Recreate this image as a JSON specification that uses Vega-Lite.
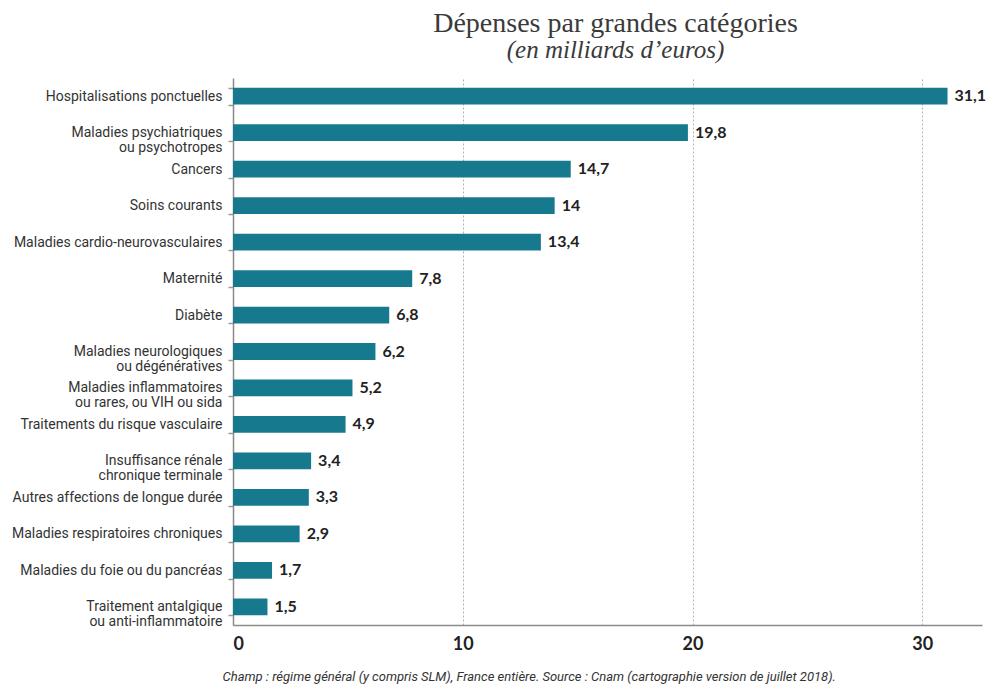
{
  "$schema": "https://vega.github.io/schema/vega-lite/v6.json",
  "width": 749,
  "height": 547,
  "autosize": {"type": "none"},
  "padding": {"left": 233, "top": 78, "right": 5, "bottom": 61},
  "background": "white",
  "config": {
    "view": {"stroke": null},
    "locale": {"number": {"decimal": ",", "thousands": " ", "grouping": [3], "currency": ["", " €"]}}
  },
  "title": {
    "text": "Dépenses par grandes catégories",
    "subtitle": "(en milliards d’euros)",
    "font": "Liberation Serif",
    "fontSize": 28,
    "fontWeight": "normal",
    "color": "#3a3a3a",
    "subtitleFont": "Liberation Serif",
    "subtitleFontSize": 25,
    "subtitleFontStyle": "italic",
    "subtitleColor": "#3a3a3a",
    "subtitlePadding": 0,
    "anchor": "middle",
    "dx": 8,
    "offset": 8
  },
  "data": {
    "values": [
      {"categorie": "Hospitalisations ponctuelles", "depense": 31.1},
      {"categorie": "Maladies psychiatriques|ou psychotropes", "depense": 19.8},
      {"categorie": "Cancers", "depense": 14.7},
      {"categorie": "Soins courants", "depense": 14},
      {"categorie": "Maladies cardio-neurovasculaires", "depense": 13.4},
      {"categorie": "Maternité", "depense": 7.8},
      {"categorie": "Diabète", "depense": 6.8},
      {"categorie": "Maladies neurologiques|ou dégénératives", "depense": 6.2},
      {"categorie": "Maladies inflammatoires|ou rares, ou VIH ou sida", "depense": 5.2},
      {"categorie": "Traitements du risque vasculaire", "depense": 4.9},
      {"categorie": "Insuffisance rénale|chronique terminale", "depense": 3.4},
      {"categorie": "Autres affections de longue durée", "depense": 3.3},
      {"categorie": "Maladies respiratoires chroniques", "depense": 2.9},
      {"categorie": "Maladies du foie ou du pancréas", "depense": 1.7},
      {"categorie": "Traitement antalgique|ou anti-inflammatoire", "depense": 1.5}
    ]
  },
  "encoding": {
    "y": {
      "field": "categorie",
      "type": "nominal",
      "sort": null,
      "scale": {"paddingInner": 0.54, "paddingOuter": 0.27},
      "axis": {
        "title": null,
        "labelExpr": "datum.value ? split(datum.value, '|') : ''",
        "labelFont": "Roboto",
        "labelFontSize": 14,
        "labelColor": "#333333",
        "labelLineHeight": 15,
        "labelPadding": 6,
        "labelLimit": 0,
        "tickBand": "extent",
        "tickSize": 5,
        "tickColor": "#999999",
        "tickWidth": 1.5,
        "domainColor": "#8a8a8a",
        "domainWidth": 1.5
      }
    },
    "x": {
      "field": "depense",
      "type": "quantitative",
      "scale": {"domain": [0, 32.6], "nice": false},
      "axis": {
        "values": [0, 10, 20, 30],
        "title": "Champ : régime général (y compris SLM), France entière. Source : Cnam (cartographie version de juillet 2018).",
        "titleFont": "Roboto",
        "titleFontStyle": "italic",
        "titleFontWeight": "normal",
        "titleFontSize": 13,
        "titleColor": "#333333",
        "titleAnchor": "start",
        "titleBaseline": "middle",
        "titleX": -11,
        "titleY": 51,
        "labelFont": "Lato",
        "labelFontWeight": "bold",
        "labelFontSize": 18,
        "labelColor": "#222222",
        "labelPadding": 10,
        "ticks": false,
        "domainColor": "#8a8a8a",
        "domainWidth": 1.5,
        "grid": true,
        "gridDash": [2, 2],
        "gridColor": "#b0b0b0",
        "gridWidth": 1
      }
    }
  },
  "layer": [
    {"mark": {"type": "bar", "color": "#17798e"}},
    {
      "mark": {"type": "text", "align": "left", "baseline": "middle", "dx": 7, "font": "Lato", "fontWeight": "bold", "fontSize": 16, "color": "#222222"},
      "encoding": {"text": {"field": "depense", "type": "quantitative", "format": ".1~f"}}
    }
  ]
}
